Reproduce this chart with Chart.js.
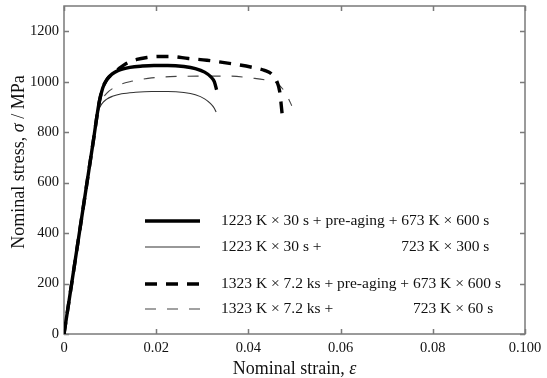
<!DOCTYPE html>
<html>
<head>
<meta charset="utf-8">
<script src="https://cdn.jsdelivr.net/npm/chart.js@4.4.0/dist/chart.umd.min.js"></script>
<style>
  html, body { margin: 0; padding: 0; background: #fff; }
</style>
</head>
<body>
<canvas id="stress-strain" width="547" height="378"></canvas>
<script>
const xTicks = [0, 0.02, 0.04, 0.06, 0.08, 0.1];
const xTickLabels = ['0', '0.02', '0.04', '0.06', '0.08', '0.100'];
const yTicks = [0, 200, 400, 600, 800, 1000, 1200];

// 1223 K x 30 s + pre-aging + 673 K x 600 s
const strainA = [0, 0.0064, 0.0076, 0.0084, 0.0093, 0.0104, 0.0118, 0.0143, 0.0170, 0.0195, 0.0225, 0.0260, 0.0285, 0.0305, 0.0318, 0.0326, 0.0331];
const stressA = [0, 770, 915, 975, 1008, 1030, 1045, 1057, 1062, 1064, 1064, 1060, 1052, 1038, 1020, 1000, 968];

// 1223 K x 30 s + 723 K x 300 s
const strainB = [0, 0.0064, 0.0074, 0.0082, 0.0092, 0.0105, 0.0125, 0.0155, 0.0190, 0.0225, 0.0260, 0.0285, 0.0305, 0.0318, 0.0326, 0.0330];
const stressB = [0, 770, 880, 912, 930, 942, 952, 958, 961, 961, 957, 948, 932, 913, 895, 880];

// 1323 K x 7.2 ks + pre-aging + 673 K x 600 s
const strainC = [0, 0.0064, 0.0076, 0.0084, 0.0093, 0.0104, 0.0118, 0.0135, 0.0158, 0.0180, 0.0205, 0.0230, 0.0270, 0.0310, 0.0365, 0.0408, 0.0435, 0.0452, 0.0462, 0.0468, 0.0473];
const stressC = [0, 770, 915, 975, 1008, 1030, 1050, 1072, 1088, 1096, 1100, 1100, 1092, 1085, 1071, 1057, 1045, 1028, 1000, 960, 875];

// 1323 K x 7.2 ks + 723 K x 60 s
const strainD = [0, 0.0064, 0.0075, 0.0083, 0.0093, 0.0107, 0.0121, 0.0143, 0.0165, 0.0190, 0.0230, 0.0290, 0.0360, 0.0410, 0.0440, 0.0462, 0.0475, 0.0485, 0.0494];
const stressD = [0, 770, 895, 930, 955, 975, 988, 1000, 1008, 1015, 1020, 1022, 1022, 1014, 1006, 994, 970, 940, 905];

const namesHead = [
  '1223 K × 30 s + pre-aging + 673 K × 600 s',
  '1223 K × 30 s +',
  '1323 K × 7.2 ks + pre-aging + 673 K × 600 s',
  '1323 K × 7.2 ks +',
];
const namesTail = ['', '723 K × 300 s', '', '723 K × 60 s'];

const FONT = '"Liberation Serif", "Times New Roman", serif';

const pts = (xs, ys) => xs.map((x, i) => ({ x: x, y: ys[i] }));

const styles = [
  { color: '#000', width: 3.4, dash: [] },
  { color: '#333', width: 1.1, dash: [] },
  { color: '#000', width: 3.4, dash: [12, 9] },
  { color: '#444', width: 1.1, dash: [11, 11] },
];
const series = [pts(strainA, stressA), pts(strainB, stressB), pts(strainC, stressC), pts(strainD, stressD)];

const frame = {
  id: 'frame',
  beforeDatasetsDraw(chart) {
    const { ctx, chartArea: a, scales } = chart;
    ctx.save();
    ctx.strokeStyle = '#7a7a7a';
    ctx.lineWidth = 1.5;
    ctx.strokeRect(a.left, a.top, a.right - a.left, a.bottom - a.top);
    ctx.beginPath();
    xTicks.forEach((v) => {
      const px = Math.round(scales.x.getPixelForValue(v)) + 0.5;
      ctx.moveTo(px, a.bottom); ctx.lineTo(px, a.bottom - 5);
      ctx.moveTo(px, a.top); ctx.lineTo(px, a.top + 5);
    });
    yTicks.forEach((v) => {
      const py = Math.round(scales.y.getPixelForValue(v)) + 0.5;
      ctx.moveTo(a.left, py); ctx.lineTo(a.left + 5, py);
      ctx.moveTo(a.right, py); ctx.lineTo(a.right - 5, py);
    });
    ctx.stroke();
    ctx.restore();
  },
  afterDraw(chart) {
    const { ctx, chartArea: a } = chart;
    ctx.save();
    ctx.fillStyle = '#111';
    ctx.textBaseline = 'middle';

    // axis titles, symbol in italic
    const tf = '18px ' + FONT, ti = 'italic 18px ' + FONT;
    const xt = ['Nominal strain, ', 'ε'];
    ctx.font = tf; const w1 = ctx.measureText(xt[0]).width;
    ctx.font = ti; const w2 = ctx.measureText(xt[1]).width;
    let x0 = (a.left + a.right) / 2 - (w1 + w2) / 2;
    ctx.textAlign = 'left';
    ctx.font = tf; ctx.fillText(xt[0], x0, 369);
    ctx.font = ti; ctx.fillText(xt[1], x0 + w1, 369);

    const yt = ['Nominal stress, ', 'σ', ' / MPa'];
    const fonts = [tf, ti, tf];
    const ws = yt.map((s, i) => { ctx.font = fonts[i]; return ctx.measureText(s).width; });
    const total = ws.reduce((p, c) => p + c, 0);
    ctx.translate(19, 162);
    ctx.rotate(-Math.PI / 2);
    let cx = -total / 2;
    yt.forEach((s, i) => { ctx.font = fonts[i]; ctx.fillText(s, cx, 0); cx += ws[i]; });
    ctx.setTransform(1, 0, 0, 1, 0, 0);

    // legend
    const rows = [221, 247, 284, 309];
    const lf = '15.5px ' + FONT;
    ctx.font = lf;
    rows.forEach((ry, i) => {
      const st = styles[i];
      ctx.strokeStyle = st.color;
      ctx.lineWidth = st.width;
      ctx.setLineDash(st.dash);
      ctx.beginPath();
      ctx.moveTo(145, ry); ctx.lineTo(200, ry);
      ctx.stroke();
      ctx.setLineDash([]);
      ctx.fillText(namesHead[i], 221, ry);
      if (namesTail[i]) {
        const prev = namesHead[i - 1];
        const lead = prev.slice(0, prev.lastIndexOf('+ ') + 2);
        ctx.fillText(namesTail[i], 221 + ctx.measureText(lead).width, ry);
      }
    });
    ctx.restore();
  },
};

const tickFont = { family: FONT, size: 14.5 };

new Chart(document.getElementById('stress-strain'), {
  type: 'scatter',
  data: {
    datasets: series.map((d, i) => ({
      label: namesHead[i] + namesTail[i],
      data: d,
      showLine: true,
      borderColor: styles[i].color,
      borderWidth: styles[i].width,
      borderDash: styles[i].dash,
      pointRadius: 0,
      cubicInterpolationMode: 'monotone',
    })),
  },
  options: {
    responsive: false,
    devicePixelRatio: 1,
    animation: false,
    layout: { padding: { left: 0, right: 22, top: 6, bottom: 0 } },
    plugins: { legend: { display: false }, tooltip: { enabled: false } },
    scales: {
      x: {
        type: 'linear',
        min: 0,
        max: 0.1,
        grid: { display: false },
        border: { display: false },
        afterBuildTicks: (s) => { s.ticks = xTicks.map((v) => ({ value: v })); },
        afterFit: (s) => { s.height = 44; s.paddingLeft = 0; s.paddingRight = 0; },
        ticks: {
          font: tickFont,
          color: '#111',
          padding: -3,
          maxRotation: 0,
          autoSkip: false,
          callback: (v, i) => xTickLabels[i],
        },
      },
      y: {
        type: 'linear',
        min: 0,
        max: 1300,
        grid: { display: false },
        border: { display: false },
        afterBuildTicks: (s) => { s.ticks = yTicks.map((v) => ({ value: v })); },
        afterFit: (s) => { s.width = 64; s.paddingTop = 0; s.paddingBottom = 0; },
        ticks: {
          font: tickFont,
          color: '#111',
          padding: -3,
          autoSkip: false,
          callback: (v) => String(v),
        },
      },
    },
  },
  plugins: [frame],
});
</script>
</body>
</html>
